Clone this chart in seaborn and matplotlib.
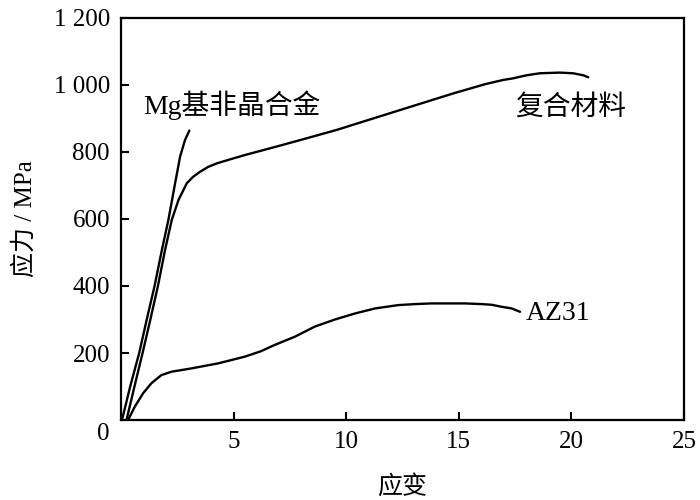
import matplotlib
matplotlib.use("Agg")
import matplotlib.pyplot as plt
import matplotlib.transforms as mtransforms
import seaborn as sns
import pandas as pd

# Data
mg_strain = [0.04, 0.40, 0.80, 1.14, 1.48, 1.81, 2.10, 2.40, 2.62, 2.84, 2.95, 3.03]
mg_stress = [0, 99, 199, 300, 398, 507, 597, 707, 786, 836, 852, 864]

comp_strain = [0.24, 0.59, 0.95, 1.30, 1.63, 1.95, 2.25, 2.55, 2.92, 3.20, 3.51, 3.85,
               4.25, 4.84, 5.50, 6.17, 7.00, 8.30, 9.58, 12.0, 14.76, 16.20, 16.97, 17.42,
               18.01, 18.60, 19.50, 20.08, 20.53, 20.75]
comp_stress = [0, 99, 199, 300, 398, 507, 597, 657, 707, 726, 741, 755,
               766, 778, 791, 803, 818, 842, 866, 917, 975, 1003, 1015, 1020,
               1029, 1035, 1037, 1035, 1029, 1023]

az_strain = [0.31, 0.61, 0.98, 1.35, 1.79, 2.23, 3.12, 4.31, 5.49, 6.20, 6.82, 7.73, 8.61, 9.50,
             10.39, 11.28, 12.31, 13.06, 13.79, 14.53, 15.27, 16.01, 16.46, 16.90, 17.35, 17.72]
az_stress = [0, 40, 80, 110, 134, 144, 154, 169, 189, 205, 224, 249, 279, 300,
             318, 333, 343, 346, 348, 348, 348, 346, 344, 338, 333, 323]

x_ticks = [5, 10, 15, 20, 25]
y_ticks = [0, 200, 400, 600, 800, 1000, 1200]
y_tick_labels = ["0", "200", "400", "600", "800", "1 000", "1 200"]

labels = ["Mg基非晶合金", "复合材料", "AZ31"]

sns.set_theme(style="white")
plt.rcParams['font.family'] = ['Liberation Serif', 'Noto Sans CJK SC']
plt.rcParams['axes.unicode_minus'] = False

df = pd.concat([
    pd.DataFrame({"strain": mg_strain, "stress": mg_stress, "mat": labels[0]}),
    pd.DataFrame({"strain": comp_strain, "stress": comp_stress, "mat": labels[1]}),
    pd.DataFrame({"strain": az_strain, "stress": az_stress, "mat": labels[2]}),
])

fig = plt.figure(figsize=(7, 5), dpi=100)
ax = fig.add_axes([0.173, 0.16, 0.804, 0.804])
for name in labels:
    sub = df[df["mat"] == name]
    sns.lineplot(data=sub, x="strain", y="stress", sort=False, estimator=None,
                 color="black", linewidth=1.7, ax=ax,
                 solid_joinstyle="round", solid_capstyle="round")

ax.set_xlim(0, 25)
ax.set_ylim(0, 1200)
ax.set_xticks(x_ticks)
ax.set_xticklabels([str(t) for t in x_ticks])
ax.set_yticks(y_ticks)
ax.set_yticklabels(y_tick_labels)
ax.tick_params(direction="in", length=6, width=1.5, labelsize=18, colors="black",
               left=True, bottom=True, top=False, right=False, pad=8)
for s in ax.spines.values():
    s.set_linewidth(1.6)
    s.set_color("black")

# shift the corner "0" slightly down as in the reference
zero_lbl = ax.get_yticklabels()[0]
zero_lbl.set_transform(zero_lbl.get_transform() +
                       mtransforms.ScaledTranslation(0, -8 / 72, fig.dpi_scale_trans))

ax.set_xlabel("应变", fontsize=18, labelpad=16, color="black")
ax.set_ylabel("应力 / MPa", fontsize=18, labelpad=12, color="black")

ax.text(0.98, 940, labels[0], fontsize=20, ha="left", va="center", color="black")
ax.text(17.5, 931, labels[1], fontsize=20, ha="left", va="center", color="black")
ax.text(17.98, 319, labels[2], fontsize=20, ha="left", va="center", color="black")

fig.savefig("out.png", dpi=100)
